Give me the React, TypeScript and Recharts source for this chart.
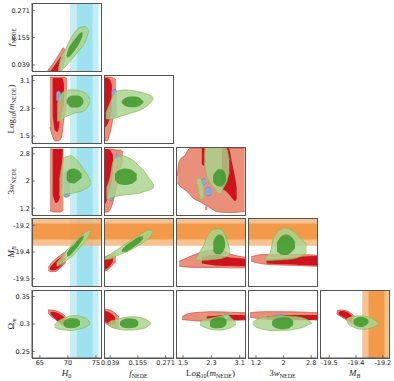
import React from 'react';
import { ComposedChart, Area, XAxis, YAxis, ReferenceArea } from 'recharts';

// one contour slice: [x, lower edge, upper edge]
type Cut = [number, number, number];

// axis ranges and ticks (M_B ticks print rounded to one decimal)
const H0_X = [63.6, 75.9];
const H0_TICKS = [65, 70, 75];
const F_X = [0.013, 0.302];
const F_Y = [0.013, 0.302];
const F_TICKS = [0.039, 0.155, 0.271];
const LOGM_X = [1.3, 3.25];
const LOGM_Y = [1.3, 3.26];
const LOGM_TICKS = [1.5, 2.3, 3.1];
const W_X = [0.97, 2.97];
const W_Y = [1.0, 3.0];
const W_TICKS = [1.2, 2, 2.8];
const MB_X = [-19.535, -19.2];
const MB_Y = [-19.525, -19.195];
const MB_TICKS = [-19.49, -19.36, -19.23];
const OM_Y = [0.238, 0.362];
const OM_TICKS = [0.25, 0.3, 0.35];

// SH0ES priors (1 and 2 sigma)
const H0_PRIOR_2S = [70.4, 75.5];
const H0_PRIOR_1S = [71.6, 74.4];
const MB_PRIOR_2S = [-19.33, -19.18];
const MB_PRIOR_1S = [-19.299, -19.222];

// ---- f_NEDE vs H0
const fH0Red95: Cut[] = [[66.4, 0.013, 0.015], [67.16, 0.013, 0.038], [67.9, 0.013, 0.064], [68.6, 0.013, 0.09], [69.2, 0.04, 0.111], [69.5, 0.07, 0.1]];
const fH0Red68: Cut[] = [[67.0, 0.013, 0.015], [67.6, 0.013, 0.036], [68.2, 0.013, 0.056], [68.8, 0.03, 0.075], [69.1, 0.06, 0.07]];
const fH0Blue95: Cut[] = [[68.6, 0.03, 0.05], [68.9, 0.025, 0.065], [69.2, 0.03, 0.06]];
const fH0Green95: Cut[] = [[68.3, 0.013, 0.02], [68.6, 0.013, 0.055], [69.5, 0.03, 0.102], [70.4, 0.055, 0.145], [71.3, 0.081, 0.181], [72.2, 0.106, 0.198], [73.05, 0.136, 0.202], [73.6, 0.174, 0.19], [73.7, 0.185, 0.187]];
const fH0Green68: Cut[] = [[69.75, 0.077, 0.081], [70.0, 0.07, 0.102], [70.7, 0.085, 0.132], [71.4, 0.106, 0.153], [72.15, 0.136, 0.174], [72.6, 0.162, 0.179]];

// ---- log10(m) vs H0
const mH0Red95: Cut[] = [[66.8, 1.76, 3.2], [67.2, 1.53, 3.2], [67.7, 1.36, 3.2], [68.2, 1.36, 3.2], [68.8, 1.44, 3.2], [69.3, 2.02, 3.2], [69.85, 2.54, 3.15]];
const mH0Red68: Cut[] = [[67.3, 2.11, 3.17], [67.7, 1.67, 3.17], [68.2, 1.62, 3.17], [68.6, 1.96, 3.17], [68.95, 2.19, 3.17], [69.3, 2.4, 3.0]];
const mH0Blue95: Cut[] = [[67.95, 2.55, 2.75], [68.3, 2.5, 2.8], [68.7, 2.6, 2.75]];
const mH0Green95: Cut[] = [[68.1, 1.93, 2.4], [68.6, 1.93, 2.66], [69.5, 2.05, 2.8], [70.4, 2.11, 2.83], [71.3, 2.17, 2.83], [72.2, 2.19, 2.8], [73.05, 2.25, 2.74], [73.6, 2.37, 2.66], [73.95, 2.5, 2.55]];
const mH0Green68: Cut[] = [[69.8, 2.45, 2.54], [70.2, 2.37, 2.63], [70.9, 2.32, 2.67], [71.6, 2.32, 2.67], [72.35, 2.37, 2.63], [72.75, 2.45, 2.54]];

// ---- log10(m) vs f
const mFRed95: Cut[] = [[0.013, 1.36, 3.2], [0.0256, 1.36, 3.2], [0.038, 1.59, 3.2], [0.051, 2.02, 3.18], [0.063, 2.4, 3.12]];
const mFRed68: Cut[] = [[0.013, 1.73, 3.17], [0.0256, 1.82, 3.17], [0.038, 2.02, 3.12], [0.046, 2.25, 2.97]];
const mFBlue95: Cut[] = [[0.045, 2.1, 2.78], [0.055, 2.05, 2.85], [0.066, 2.1, 2.82]];
const mFGreen95: Cut[] = [[0.0214, 1.99, 2.17], [0.038, 1.99, 2.45], [0.051, 2.0, 2.68], [0.072, 2.05, 2.8], [0.101, 2.11, 2.83], [0.13, 2.17, 2.81], [0.164, 2.25, 2.77], [0.193, 2.37, 2.71], [0.21, 2.48, 2.66], [0.22, 2.57, 2.6]];
const mFGreen68: Cut[] = [[0.087, 2.45, 2.51], [0.101, 2.37, 2.6], [0.126, 2.33, 2.64], [0.151, 2.34, 2.63], [0.168, 2.4, 2.57], [0.178, 2.47, 2.5]];

// ---- 3w vs H0
const wH0Red95: Cut[] = [[66.8, 1.12, 2.94], [67.7, 1.09, 2.94], [68.6, 1.09, 2.94], [69.2, 1.15, 2.94]];
const wH0Red68: Cut[] = [[67.3, 1.59, 2.94], [67.9, 1.35, 2.94], [68.4, 1.44, 2.94], [69.05, 1.88, 2.94]];
const wH0Blue95: Cut[] = [[69.3, 1.55, 2.2], [69.8, 1.52, 2.3], [70.4, 1.58, 2.2]];
const wH0Green95: Cut[] = [[68.5, 1.56, 2.03], [68.9, 1.56, 2.44], [69.2, 1.59, 2.67], [69.85, 1.62, 2.72], [70.55, 1.63, 2.74], [71.25, 1.66, 2.67], [72.15, 1.69, 2.5], [73.05, 1.77, 2.28], [73.65, 1.82, 2.13], [74.05, 1.93, 1.97]];
const wH0Green68: Cut[] = [[69.8, 2.03, 2.24], [70.35, 1.94, 2.35], [71.1, 1.93, 2.37], [71.8, 2.0, 2.32], [72.45, 2.09, 2.21]];

// ---- 3w vs f
const wFRed95: Cut[] = [[0.0143, 1.09, 2.94], [0.0297, 1.09, 2.94], [0.0465, 1.29, 2.94], [0.063, 1.74, 2.91], [0.08, 2.32, 2.91], [0.0926, 2.62, 2.85]];
const wFRed68: Cut[] = [[0.0143, 1.29, 2.94], [0.0256, 1.44, 2.94], [0.038, 1.74, 2.91], [0.0507, 2.18, 2.76]];
const wFBlueLow: Cut[] = [[0.036, 1.42, 1.75], [0.045, 1.42, 1.8], [0.052, 1.5, 1.7]];
const wFBlueTop: Cut[] = [[0.058, 2.55, 2.78], [0.066, 2.6, 2.8], [0.072, 2.65, 2.75]];
const wFGreen95: Cut[] = [[0.0235, 1.46, 1.79], [0.038, 1.49, 2.09], [0.052, 1.53, 2.59], [0.0716, 1.56, 2.71], [0.094, 1.59, 2.74], [0.1135, 1.6, 2.69], [0.136, 1.62, 2.6], [0.155, 1.63, 2.47], [0.178, 1.68, 2.32], [0.197, 1.72, 2.12], [0.213, 1.77, 1.98], [0.222, 1.82, 1.85]];
const wFGreen68: Cut[] = [[0.059, 2.03, 2.21], [0.076, 1.91, 2.32], [0.101, 1.88, 2.37], [0.126, 1.91, 2.34], [0.15, 2.03, 2.21]];

// ---- 3w vs log10(m)
const wMRed95: Cut[] = [[1.34, 1.95, 2.15], [1.37, 1.9, 2.47], [1.413, 1.85, 2.62], [1.554, 1.74, 2.76], [1.696, 1.6, 2.96], [1.74, 1.54, 2.96], [1.978, 1.39, 2.96], [2.213, 1.24, 2.96], [2.354, 1.15, 2.96], [2.45, 1.1, 2.96], [2.83, 1.07, 2.96], [3.0, 1.08, 2.96], [3.24, 1.1, 2.96]];
const wMRedDot: Cut[] = [[2.12, 1.18, 1.22], [2.15, 1.16, 1.24], [2.18, 1.18, 1.22]];
const wMRed68Left: Cut[] = [[2.03, 2.5, 2.99], [2.08, 2.45, 2.99], [2.14, 2.55, 2.99]];
const wMRed68: Cut[] = [[2.6, 1.75, 2.99], [2.713, 1.7, 2.99], [2.8, 1.6, 2.95], [2.88, 1.5, 2.55], [2.967, 1.41, 2.12], [3.015, 1.47, 1.79]];
const wMBlueA: Cut[] = [[2.03, 1.95, 2.02], [2.08, 1.88, 2.08], [2.14, 1.93, 2.04]];
const wMBlueB: Cut[] = [[2.12, 1.62, 1.75], [2.2, 1.56, 1.83], [2.3, 1.6, 1.75]];
const wMGreenStub: Cut[] = [[1.9, 1.9, 2.08], [1.95, 1.6, 2.1], [2.0, 1.44, 2.05], [2.07, 1.5, 1.9]];
const wMGreen95: Cut[] = [[2.1, 2.56, 2.68], [2.12, 2.38, 2.99], [2.148, 2.23, 2.99], [2.24, 1.98, 2.99], [2.4, 1.76, 2.99], [2.543, 1.62, 2.99], [2.637, 1.79, 2.99], [2.685, 1.88, 2.99], [2.75, 2.03, 2.91], [2.778, 2.15, 2.76], [2.806, 2.26, 2.62]];
const wMGreen68: Cut[] = [[2.35, 1.97, 2.18], [2.43, 1.88, 2.29], [2.53, 1.83, 2.35], [2.63, 1.87, 2.32], [2.71, 2.0, 2.18]];

// ---- M_B vs H0
const bH0Red95: Cut[] = [[66.5, -19.45, -19.435], [67.0, -19.455, -19.416], [67.7, -19.455, -19.396], [68.4, -19.443, -19.382], [69.1, -19.425, -19.367], [69.65, -19.411, -19.358]];
const bH0Red68: Cut[] = [[66.8, -19.445, -19.435], [67.3, -19.45, -19.42], [68.0, -19.445, -19.4], [68.7, -19.43, -19.385], [69.2, -19.415, -19.375]];
const bH0Green95: Cut[] = [[68.0, -19.429, -19.412], [68.6, -19.423, -19.394], [69.3, -19.411, -19.367], [70.0, -19.396, -19.345], [70.9, -19.377, -19.321], [71.8, -19.35, -19.294], [72.7, -19.321, -19.273], [73.3, -19.299, -19.261], [73.75, -19.28, -19.256], [73.95, -19.265, -19.26]];
const bH0Green68: Cut[] = [[69.85, -19.382, -19.362], [70.35, -19.377, -19.343], [71.1, -19.355, -19.324], [71.8, -19.333, -19.299], [72.4, -19.309, -19.285], [72.8, -19.292, -19.28]];

// ---- M_B vs f
const bFRed95: Cut[] = [[0.013, -19.455, -19.387], [0.03, -19.445, -19.377], [0.0465, -19.425, -19.372], [0.063, -19.406, -19.362]];
const bFRed68: Cut[] = [[0.013, -19.448, -19.395], [0.027, -19.44, -19.39], [0.04, -19.425, -19.385], [0.05, -19.41, -19.38]];
const bFGreen95: Cut[] = [[0.017, -19.396, -19.387], [0.038, -19.394, -19.372], [0.059, -19.383, -19.355], [0.08, -19.372, -19.34], [0.101, -19.362, -19.321], [0.122, -19.351, -19.307], [0.143, -19.338, -19.291], [0.164, -19.324, -19.275], [0.185, -19.307, -19.261], [0.201, -19.294, -19.252], [0.216, -19.268, -19.256]];
const bFGreen68: Cut[] = [[0.088, -19.36, -19.348], [0.105, -19.358, -19.328], [0.126, -19.345, -19.312], [0.147, -19.328, -19.294], [0.164, -19.314, -19.285], [0.176, -19.297, -19.285]];

// ---- M_B vs log10(m)
const bMRed95: Cut[] = [[1.39, -19.429, -19.405], [1.7, -19.434, -19.382], [2.07, -19.435, -19.358], [2.54, -19.435, -19.348], [2.83, -19.437, -19.37], [3.25, -19.437, -19.385]];
const bMRed68: Cut[] = [[2.03, -19.416, -19.387], [2.4, -19.425, -19.372], [2.83, -19.428, -19.387], [3.2, -19.429, -19.392], [3.25, -19.429, -19.395]];
const bMGreen95: Cut[] = [[1.885, -19.399, -19.387], [1.98, -19.401, -19.358], [2.07, -19.4, -19.332], [2.21, -19.399, -19.275], [2.355, -19.396, -19.251], [2.49, -19.394, -19.247], [2.6, -19.39, -19.253], [2.73, -19.382, -19.299], [2.805, -19.372, -19.338], [2.826, -19.362, -19.348]];
const bMGreen68: Cut[] = [[2.354, -19.358, -19.309], [2.43, -19.37, -19.285], [2.53, -19.372, -19.275], [2.63, -19.358, -19.285], [2.685, -19.338, -19.309]];

// ---- M_B vs 3w
const bWRed95: Cut[] = [[1.06, -19.405, -19.383], [1.41, -19.418, -19.372], [1.9, -19.423, -19.372], [2.38, -19.425, -19.372], [2.91, -19.429, -19.375], [2.97, -19.429, -19.377]];
const bWRed68: Cut[] = [[1.51, -19.416, -19.396], [2.0, -19.42, -19.39], [2.5, -19.423, -19.383], [2.91, -19.425, -19.38], [2.97, -19.425, -19.381]];
const bWGreen95: Cut[] = [[1.46, -19.399, -19.394], [1.56, -19.401, -19.372], [1.61, -19.401, -19.364], [1.7, -19.4, -19.299], [1.85, -19.399, -19.259], [2.04, -19.396, -19.243], [2.28, -19.393, -19.259], [2.48, -19.382, -19.29], [2.67, -19.362, -19.324]];
const bWGreen68: Cut[] = [[1.81, -19.358, -19.314], [1.93, -19.372, -19.285], [2.07, -19.375, -19.275], [2.22, -19.362, -19.285], [2.33, -19.343, -19.309]];

// ---- Omega_m vs H0
const oH0Red95: Cut[] = [[66.45, 0.32, 0.3255], [67.15, 0.3127, 0.3255], [67.9, 0.3073, 0.3237], [68.6, 0.3, 0.321], [69.3, 0.2963, 0.3164], [69.75, 0.2963, 0.3109]];
const oH0Red68: Cut[] = [[66.9, 0.318, 0.322], [67.5, 0.312, 0.3225], [68.2, 0.305, 0.32], [68.9, 0.301, 0.316], [69.4, 0.299, 0.312]];
const oH0Green95: Cut[] = [[67.6, 0.2945, 0.2982], [68.1, 0.2918, 0.3036], [68.6, 0.2903, 0.3073], [69.5, 0.289, 0.3118], [70.4, 0.2881, 0.3146], [71.25, 0.289, 0.3155], [72.15, 0.2909, 0.3137], [73.05, 0.294, 0.3109], [73.6, 0.2973, 0.3073], [73.95, 0.3, 0.3009]];
const oH0Green68: Cut[] = [[69.2, 0.2982, 0.3036], [69.65, 0.2936, 0.3082], [70.55, 0.2921, 0.3104], [71.45, 0.2936, 0.31], [72.15, 0.2982, 0.3055]];

// ---- Omega_m vs f
const oFRed95: Cut[] = [[0.013, 0.3036, 0.3273], [0.03, 0.2982, 0.3264], [0.0465, 0.2945, 0.3237], [0.063, 0.2927, 0.3182], [0.076, 0.2927, 0.3127]];
const oFRed68: Cut[] = [[0.013, 0.305, 0.324], [0.027, 0.302, 0.323], [0.04, 0.299, 0.32], [0.052, 0.298, 0.316], [0.06, 0.298, 0.312]];
const oFGreen95: Cut[] = [[0.032, 0.2991, 0.3027], [0.042, 0.2945, 0.3055], [0.059, 0.2921, 0.3073], [0.08, 0.2899, 0.31], [0.105, 0.289, 0.3122], [0.134, 0.289, 0.3133], [0.164, 0.2909, 0.3118], [0.189, 0.2936, 0.3082], [0.209, 0.3, 0.3018]];
const oFGreen68: Cut[] = [[0.08, 0.2982, 0.3036], [0.0926, 0.2936, 0.3082], [0.1177, 0.2921, 0.3104], [0.1428, 0.2936, 0.3091], [0.1566, 0.2982, 0.3046]];

// ---- Omega_m vs log10(m)
const oMRed95: Cut[] = [[1.47, 0.3082, 0.3128], [1.58, 0.3073, 0.3173], [1.7, 0.3067, 0.3195], [1.98, 0.3055, 0.3213], [2.26, 0.3055, 0.3224], [2.685, 0.3055, 0.3219], [2.97, 0.3067, 0.3213], [3.25, 0.3073, 0.3206]];
const oMRed68: Cut[] = [[2.17, 0.308, 0.314], [2.5, 0.3073, 0.3155], [2.85, 0.3073, 0.3164], [3.25, 0.3078, 0.316]];
const oMBlue95: Cut[] = [[2.65, 0.31, 0.318], [2.72, 0.309, 0.3185], [2.8, 0.31, 0.316]];
const oMGreen95: Cut[] = [[1.98, 0.2982, 0.3036], [2.07, 0.2951, 0.3073], [2.18, 0.2921, 0.3091], [2.32, 0.2899, 0.3109], [2.46, 0.289, 0.3131], [2.6, 0.289, 0.3149], [2.73, 0.2911, 0.3177], [2.87, 0.294, 0.3104], [2.99, 0.2991, 0.3036]];
const oMGreen68: Cut[] = [[2.26, 0.2963, 0.3055], [2.35, 0.2927, 0.31], [2.49, 0.2921, 0.3128], [2.63, 0.2936, 0.3118], [2.73, 0.3, 0.3073]];

// ---- Omega_m vs 3w
const oWRed95: Cut[] = [[1.03, 0.3122, 0.3206], [1.41, 0.3091, 0.3224], [1.9, 0.3073, 0.3224], [2.48, 0.3073, 0.3219], [2.97, 0.3073, 0.3206]];
const oWRed68: Cut[] = [[1.51, 0.308, 0.314], [2.0, 0.3073, 0.316], [2.5, 0.3073, 0.3165], [2.97, 0.3078, 0.3165]];
const oWBlue95: Cut[] = [[1.8, 0.314, 0.3165], [1.9, 0.3135, 0.317], [2.0, 0.314, 0.3165]];
const oWGreen95: Cut[] = [[1.11, 0.2991, 0.3027], [1.2, 0.2945, 0.3073], [1.32, 0.2918, 0.3104], [1.49, 0.2894, 0.3128], [1.7, 0.2878, 0.314], [1.985, 0.2885, 0.3146], [2.19, 0.289, 0.3142], [2.39, 0.2914, 0.3133], [2.57, 0.294, 0.3109], [2.68, 0.2973, 0.3082], [2.82, 0.3012, 0.3018]];
const oWGreen68: Cut[] = [[1.67, 0.2973, 0.3055], [1.78, 0.2927, 0.31], [1.96, 0.2903, 0.3122], [2.13, 0.2918, 0.3118], [2.28, 0.2982, 0.3055]];

// ---- Omega_m vs M_B
const oBRed95: Cut[] = [[-19.454, 0.3182, 0.3237], [-19.438, 0.3146, 0.3255], [-19.418, 0.31, 0.325], [-19.399, 0.3055, 0.3228], [-19.38, 0.3018, 0.3182], [-19.365, 0.3018, 0.3128]];
const oBRed68: Cut[] = [[-19.445, 0.318, 0.322], [-19.43, 0.314, 0.3235], [-19.41, 0.31, 0.323], [-19.395, 0.306, 0.32], [-19.38, 0.304, 0.315]];
const oBGreen95: Cut[] = [[-19.405, 0.3064, 0.31], [-19.393, 0.2982, 0.3118], [-19.373, 0.2945, 0.314], [-19.35, 0.2912, 0.3146], [-19.325, 0.2903, 0.3146], [-19.302, 0.2914, 0.3128], [-19.283, 0.2936, 0.3104], [-19.26, 0.2967, 0.3046], [-19.249, 0.2991, 0.3009]];
const oBGreen68: Cut[] = [[-19.372, 0.3, 0.3073], [-19.355, 0.2954, 0.3118], [-19.336, 0.294, 0.3131], [-19.317, 0.2963, 0.3118], [-19.3, 0.3018, 0.3073]];

const STYLES: Record<string, { fill: string; stroke: string; opacity: number }> = {
  red95: { fill: '#e8907a', stroke: '#e2443a', opacity: 1 },
  red68: { fill: '#d0121f', stroke: 'none', opacity: 1 },
  blue95: { fill: '#86a9de', stroke: '#5b86cf', opacity: 1 },
  green95: { fill: '#a9d28c', stroke: '#80bd4e', opacity: 0.82 },
  green68: { fill: '#3f982a', stroke: 'none', opacity: 0.85 },
};

type AxisDef = { domain: number[]; ticks: number[]; fmt?: (v: number) => string };
const fmtMB = (v: number) => v.toFixed(1);
const X_AXES: AxisDef[] = [
  { domain: H0_X, ticks: H0_TICKS },
  { domain: F_X, ticks: F_TICKS },
  { domain: LOGM_X, ticks: LOGM_TICKS },
  { domain: W_X, ticks: W_TICKS },
  { domain: MB_X, ticks: MB_TICKS, fmt: fmtMB },
];
const Y_AXES: AxisDef[] = [
  { domain: F_Y, ticks: F_TICKS },
  { domain: LOGM_Y, ticks: LOGM_TICKS },
  { domain: W_Y, ticks: W_TICKS },
  { domain: MB_Y, ticks: MB_TICKS, fmt: fmtMB },
  { domain: OM_Y, ticks: OM_TICKS },
];

type Layer = [Cut[], string];
const PANELS: { row: number; col: number; layers: Layer[] }[] = [
  { row: 0, col: 0, layers: [[fH0Red95, 'red95'], [fH0Red68, 'red68'], [fH0Blue95, 'blue95'], [fH0Green95, 'green95'], [fH0Green68, 'green68']] },
  { row: 1, col: 0, layers: [[mH0Red95, 'red95'], [mH0Red68, 'red68'], [mH0Blue95, 'blue95'], [mH0Green95, 'green95'], [mH0Green68, 'green68']] },
  { row: 1, col: 1, layers: [[mFRed95, 'red95'], [mFRed68, 'red68'], [mFBlue95, 'blue95'], [mFGreen95, 'green95'], [mFGreen68, 'green68']] },
  { row: 2, col: 0, layers: [[wH0Red95, 'red95'], [wH0Red68, 'red68'], [wH0Blue95, 'blue95'], [wH0Green95, 'green95'], [wH0Green68, 'green68']] },
  { row: 2, col: 1, layers: [[wFRed95, 'red95'], [wFRed68, 'red68'], [wFBlueLow, 'blue95'], [wFBlueTop, 'blue95'], [wFGreen95, 'green95'], [wFGreen68, 'green68']] },
  { row: 2, col: 2, layers: [[wMRed95, 'red95'], [wMRedDot, 'red95'], [wMRed68Left, 'red68'], [wMRed68, 'red68'], [wMBlueA, 'blue95'], [wMBlueB, 'blue95'], [wMGreenStub, 'green95'], [wMGreen95, 'green95'], [wMGreen68, 'green68']] },
  { row: 3, col: 0, layers: [[bH0Red95, 'red95'], [bH0Red68, 'red68'], [bH0Green95, 'green95'], [bH0Green68, 'green68']] },
  { row: 3, col: 1, layers: [[bFRed95, 'red95'], [bFRed68, 'red68'], [bFGreen95, 'green95'], [bFGreen68, 'green68']] },
  { row: 3, col: 2, layers: [[bMRed95, 'red95'], [bMRed68, 'red68'], [bMGreen95, 'green95'], [bMGreen68, 'green68']] },
  { row: 3, col: 3, layers: [[bWRed95, 'red95'], [bWRed68, 'red68'], [bWGreen95, 'green95'], [bWGreen68, 'green68']] },
  { row: 4, col: 0, layers: [[oH0Red95, 'red95'], [oH0Red68, 'red68'], [oH0Green95, 'green95'], [oH0Green68, 'green68']] },
  { row: 4, col: 1, layers: [[oFRed95, 'red95'], [oFRed68, 'red68'], [oFGreen95, 'green95'], [oFGreen68, 'green68']] },
  { row: 4, col: 2, layers: [[oMRed95, 'red95'], [oMRed68, 'red68'], [oMBlue95, 'blue95'], [oMGreen95, 'green95'], [oMGreen68, 'green68']] },
  { row: 4, col: 3, layers: [[oWRed95, 'red95'], [oWRed68, 'red68'], [oWBlue95, 'blue95'], [oWGreen95, 'green95'], [oWGreen68, 'green68']] },
  { row: 4, col: 4, layers: [[oBRed95, 'red95'], [oBRed68, 'red68'], [oBGreen95, 'green95'], [oBGreen68, 'green68']] },
];

const PW = 69;
const PH = 68;
const SIDE = 14; // spare room left/right so edge tick labels are not clipped
const tickFont = { fontSize: 6.5, fill: '#222', fontFamily: 'DejaVu Sans' };
const frame = '#555';
const blank = () => '';

function Panel({ row, col, layers }: { row: number; col: number; layers: Layer[] }) {
  const xa = X_AXES[col];
  const ya = Y_AXES[row];
  const lw = col === 0 ? 30 : 0;
  const bh = row === 4 ? 14 : 0;
  const left = 32 + 72 * col;
  const top = Math.round(3 + 71.75 * row);
  const axisLine = { stroke: frame, strokeWidth: 1 };
  const tickLine = { stroke: frame, strokeWidth: 0.8 };
  return (
    <>
      <div style={{ position: 'absolute', left: left - lw - SIDE, top: top - 1 }}>
        <ComposedChart width={PW + lw + 2 * SIDE} height={PH + bh + 2} margin={{ top: 1, right: SIDE, bottom: 1, left: SIDE }}>
          <XAxis type="number" dataKey="x" domain={xa.domain} ticks={xa.ticks} allowDataOverflow
            height={bh} axisLine={axisLine} tickLine={tickLine} tickSize={-3} tickMargin={5}
            tick={row === 4 ? tickFont : false} tickFormatter={row === 4 ? xa.fmt : blank} interval={0} />
          <XAxis xAxisId="top" orientation="top" type="number" domain={xa.domain} ticks={xa.ticks} allowDataOverflow
            height={0} axisLine={axisLine} tickLine={tickLine} tickSize={-3} tick={false} interval={0} />
          <YAxis type="number" domain={ya.domain} ticks={ya.ticks} allowDataOverflow
            width={lw} axisLine={axisLine} tickLine={tickLine} tickSize={-3} tickMargin={5}
            tick={col === 0 ? tickFont : false} tickFormatter={col === 0 ? ya.fmt : blank} interval={0} />
          <YAxis yAxisId="right" orientation="right" type="number" domain={ya.domain} ticks={ya.ticks} allowDataOverflow
            width={0} axisLine={axisLine} tickLine={tickLine} tickSize={-3} tick={false} interval={0} />
          {col === 0 && (
            <ReferenceArea x1={H0_PRIOR_2S[0]} x2={H0_PRIOR_2S[1]} fill="#c3eef6" fillOpacity={1} stroke="none" ifOverflow="hidden" />
          )}
          {col === 0 && (
            <ReferenceArea x1={H0_PRIOR_1S[0]} x2={H0_PRIOR_1S[1]} fill="#9de2ee" fillOpacity={1} stroke="none" ifOverflow="hidden" />
          )}
          {row === 3 && (
            <ReferenceArea y1={MB_PRIOR_2S[0]} y2={MB_PRIOR_2S[1]} fill="#f5b274" fillOpacity={0.8} stroke="none" ifOverflow="hidden" />
          )}
          {row === 3 && (
            <ReferenceArea y1={MB_PRIOR_1S[0]} y2={MB_PRIOR_1S[1]} fill="#f08f38" fillOpacity={0.8} stroke="none" ifOverflow="hidden" />
          )}
          {col === 4 && (
            <ReferenceArea x1={MB_PRIOR_2S[0]} x2={MB_PRIOR_2S[1]} fill="#f5b274" fillOpacity={0.8} stroke="none" ifOverflow="hidden" />
          )}
          {col === 4 && (
            <ReferenceArea x1={MB_PRIOR_1S[0]} x2={MB_PRIOR_1S[1]} fill="#f08f38" fillOpacity={0.8} stroke="none" ifOverflow="hidden" />
          )}
          {layers.map(([cuts, kind], i) => {
            const s = STYLES[kind];
            return (
              <Area
                key={i}
                data={cuts.map(([x, lo, hi]) => ({ x, r: [lo, hi] }))}
                dataKey="r"
                type="monotone"
                fill={s.fill}
                fillOpacity={s.opacity}
                stroke={s.stroke}
                strokeWidth={0.7}
                dot={false}
                activeDot={false}
                isAnimationActive={false}
              />
            );
          })}
        </ComposedChart>
      </div>
      <div style={{ position: 'absolute', left: left - 0.5, top: top - 0.5, width: PW + 1, height: PH + 1, border: `1px solid ${frame}`, boxSizing: 'border-box', pointerEvents: 'none' }} />
    </>
  );
}

const serif = { fontFamily: 'Liberation Serif', fontSize: 9, color: '#222', lineHeight: 1, whiteSpace: 'nowrap' as const };
const sub = { fontSize: 6, verticalAlign: '-2px', lineHeight: 0 };

const X_LABELS = [
  <span><i>H</i><span style={sub}>0</span></span>,
  <span><i>f</i><span style={sub}>NEDE</span></span>,
  <span>Log<span style={sub}>10</span>(<i>m</i><span style={sub}>NEDE</span>)</span>,
  <span>3<i>w</i><span style={sub}>NEDE</span></span>,
  <span><i>M</i><span style={sub}><i>B</i></span></span>,
];
const Y_LABELS = [
  <span><i>f</i><span style={sub}>NEDE</span></span>,
  <span>Log<span style={sub}>10</span>(<i>m</i><span style={sub}>NEDE</span>)</span>,
  <span>3<i>w</i><span style={sub}>NEDE</span></span>,
  <span><i>M</i><span style={sub}><i>B</i></span></span>,
  <span>Ω<span style={sub}><i>m</i></span></span>,
];

export default function App() {
  return (
    <div style={{ position: 'absolute', left: 0, top: 0, width: 394, height: 381, background: '#fff', overflow: 'hidden' }}>
      {PANELS.map(p => (
        <Panel key={`${p.row}-${p.col}`} row={p.row} col={p.col} layers={p.layers} />
      ))}
      {X_LABELS.map((lab, c) => (
        <div key={`x${c}`} style={{ ...serif, position: 'absolute', left: 32 + 72 * c + 34.5, top: 373, transform: 'translate(-50%, -50%)' }}>
          {lab}
        </div>
      ))}
      {Y_LABELS.map((lab, r) => (
        <div key={`y${r}`} style={{ ...serif, position: 'absolute', left: 11, top: 3 + 71.75 * r + 34, transform: 'translate(-50%, -50%) rotate(-90deg)' }}>
          {lab}
        </div>
      ))}
    </div>
  );
}
